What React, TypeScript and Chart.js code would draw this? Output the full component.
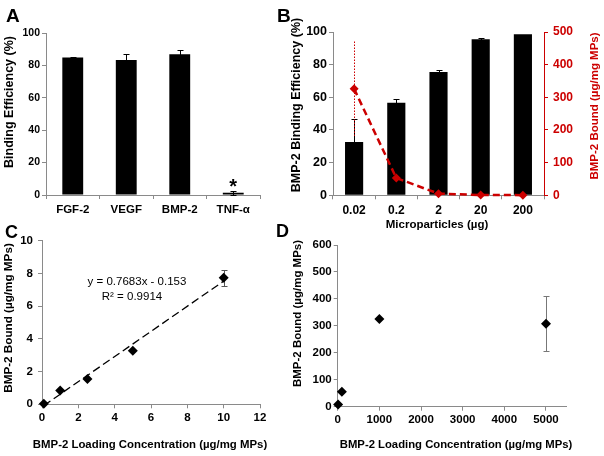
import React, { useEffect, useRef } from "react";
import { Chart, registerables } from "chart.js";

Chart.register(...registerables);

const FAMILY = "'Liberation Sans', Arial, Helvetica, sans-serif";
const AXIS_GRAY = "#8a8a8a";
const RED = "#cc0000";
const BLACK = "#000000";

// ---------- Panel A ----------
const aCategories = ["FGF-2", "VEGF", "BMP-2", "TNF-α"];
const aValues = [84.8, 83.3, 86.9, 1.4];
const aErrors = [0.6, 4.0, 2.6, 1.2];

// ---------- Panel B ----------
const bCategories = ["0.02", "0.2", "2", "20", "200"];
const bEfficiency = [32.7, 56.6, 75.5, 95.5, 98.6];
const bEfficiencyErr = [14.3, 2.2, 1.5, 1.0, 0];
const bBound = [326, 53, 5, 1, 0.5];
const bBoundErr = [145, 0, 0, 0, 0];

// ---------- Panel C ----------
const cLoading = [0.1, 1, 2.5, 5, 10];
const cBound = [0.03, 0.84, 1.54, 3.27, 7.73];
const cBoundErr = [0, 0, 0, 0, 0.47];
const cSlope = 0.7683;
const cIntercept = -0.153;
const cFitRange = [0.1, 10];
const cEquation = "y = 0.7683x - 0.153";
const cR2 = "R² = 0.9914";

// ---------- Panel D ----------
const dLoading = [10, 100, 1000, 5000];
const dBound = [7.7, 55.5, 325, 308];
const dBoundErr = [0, 0, 0, 101];
const dXTicks = [0, 1000, 2000, 3000, 4000, 5000];

type Frame = { left: number; top: number; width: number; height: number };
type Area = { l: number; t: number; r: number; b: number };

type TextItem = {
  text: string;
  x: number;
  y: number;
  size: number;
  weight?: string;
  color?: string;
  align?: CanvasTextAlign;
  baseline?: CanvasTextBaseline;
  rotate?: number;
};

function textPlugin(items: (chart: any) => TextItem[], f: Frame) {
  return {
    id: "texts",
    afterDraw(chart: any) {
      const ctx = chart.ctx;
      for (const t of items(chart)) {
        ctx.save();
        ctx.font = `${t.weight || "bold"} ${t.size}px ${FAMILY}`;
        ctx.fillStyle = t.color || BLACK;
        ctx.textAlign = t.align || "center";
        ctx.textBaseline = t.baseline || "middle";
        ctx.translate(t.x - f.left, t.y - f.top);
        if (t.rotate) ctx.rotate(t.rotate);
        ctx.fillText(t.text, 0, 0);
        ctx.restore();
      }
    },
  };
}

type ErrSpec = {
  datasetIndex: number;
  errors: number[];
  color: string;
  width: number;
  cap: number;
  dash?: number[];
  phase: "before" | "after";
};

function drawErr(chart: any, s: ErrSpec) {
  const meta = chart.getDatasetMeta(s.datasetIndex);
  const ds = chart.data.datasets[s.datasetIndex];
  const yScale = chart.scales[meta.yAxisID];
  const ctx = chart.ctx;
  ctx.save();
  ctx.strokeStyle = s.color;
  ctx.lineWidth = s.width;
  meta.data.forEach((el: any, i: number) => {
    const e = s.errors[i];
    if (!e) return;
    const raw = ds.data[i];
    const v = typeof raw === "number" ? raw : raw.y;
    const yTop = Math.round(yScale.getPixelForValue(v + e)) + 0.5;
    const yBot = Math.round(yScale.getPixelForValue(v - e)) + 0.5;
    const x = Math.round(el.x) + 0.5;
    ctx.setLineDash(s.dash || []);
    ctx.beginPath();
    ctx.moveTo(x, yTop);
    ctx.lineTo(x, yBot);
    ctx.stroke();
    if (s.cap) {
      ctx.setLineDash([]);
      ctx.beginPath();
      ctx.moveTo(x - s.cap, yTop);
      ctx.lineTo(x + s.cap, yTop);
      ctx.moveTo(x - s.cap, yBot);
      ctx.lineTo(x + s.cap, yBot);
      ctx.stroke();
    }
  });
  ctx.restore();
}

function errorPlugin(specs: ErrSpec[]) {
  const run = (chart: any, idx: number, phase: string) =>
    specs.filter((s) => s.datasetIndex === idx && s.phase === phase).forEach((s) => drawErr(chart, s));
  return {
    id: "errbars",
    beforeDatasetDraw(chart: any, args: any) {
      run(chart, args.index, "before");
    },
    afterDatasetDraw(chart: any, args: any) {
      run(chart, args.index, "after");
    },
  };
}

const tickFont = (size: number) => ({ family: FAMILY, size, weight: "bold" as const });

function axis(color: string, tickSize: number, padding: number, tickColor: string, extra: any = {}) {
  return {
    border: { display: true, color, width: 1 },
    grid: {
      display: true,
      drawOnChartArea: false,
      drawTicks: true,
      tickLength: 4,
      color,
      lineWidth: 1,
      ...(extra.grid || {}),
    },
    ticks: { color: tickColor, font: tickFont(tickSize), padding, ...(extra.ticks || {}) },
  };
}

const baseOptions = {
  responsive: false,
  maintainAspectRatio: false,
  animation: false,
  devicePixelRatio: 1,
  plugins: { legend: { display: false }, tooltip: { enabled: false } },
};

// panel frames (canvas boxes) and plot areas, in page coordinates
const PA: Frame = { left: 0, top: 0, width: 270, height: 228 };
const PB: Frame = { left: 270, top: 0, width: 334, height: 234 };
const PC: Frame = { left: 0, top: 212, width: 270, height: 244 };
const PD: Frame = { left: 270, top: 212, width: 334, height: 244 };

const AA: Area = { l: 46, t: 33, r: 260, b: 195 };
const AB: Area = { l: 333, t: 32, r: 544, b: 195.3 };
const AC: Area = { l: 42, t: 240.7, r: 260, b: 404.3 };
const AD: Area = { l: 337.7, t: 245, r: 566.8, b: 406.7 };

const padTop = (f: Frame, a: Area) => a.t - f.top;
const leftW = (f: Frame, a: Area) => a.l - f.left;
const rightW = (f: Frame, a: Area) => f.left + f.width - a.r;
const bottomH = (f: Frame, a: Area) => f.top + f.height - a.b;

function buildA(): any {
  return {
    type: "bar",
    data: {
      labels: aCategories,
      datasets: [
        {
          data: aValues,
          backgroundColor: BLACK,
          borderWidth: 0,
          categoryPercentage: 1,
          barPercentage: 0.39,
        },
      ],
    },
    options: {
      ...baseOptions,
      layout: { padding: { left: 0, top: padTop(PA, AA), right: rightW(PA, AA), bottom: 0 } },
      scales: {
        x: {
          ...axis(AXIS_GRAY, 11.5, 4, BLACK, { grid: { offset: true } }),
          offset: true,
          afterFit: (s: any) => {
            s.height = bottomH(PA, AA);
          },
        },
        y: {
          ...axis(AXIS_GRAY, 10.5, 2, BLACK, { ticks: { stepSize: 20 } }),
          min: 0,
          max: 100,
          afterFit: (s: any) => {
            s.width = leftW(PA, AA);
          },
        },
      },
    },
    plugins: [
      errorPlugin([{ datasetIndex: 0, errors: aErrors, color: BLACK, width: 1, cap: 3, phase: "after" }]),
      textPlugin((chart) => {
        const xs = chart.scales.x;
        const ys = chart.scales.y;
        const i = 3;
        return [
          { text: "A", x: 6, y: 22, size: 19, align: "left", baseline: "alphabetic" },
          { text: "Binding Efficiency (%)", x: 10, y: 102, size: 12.5, rotate: -Math.PI / 2 },
          {
            text: "*",
            x: xs.getPixelForValue(i) + PA.left,
            y: ys.getPixelForValue(aValues[i] + aErrors[i]) + PA.top + 2,
            size: 20,
            baseline: "alphabetic",
          },
        ];
      }, PA),
    ],
  };
}

function buildB(): any {
  return {
    type: "bar",
    data: {
      labels: bCategories,
      datasets: [
        {
          type: "bar",
          data: bEfficiency,
          yAxisID: "y",
          backgroundColor: BLACK,
          borderWidth: 0,
          categoryPercentage: 1,
          barPercentage: 0.43,
          order: 2,
        },
        {
          type: "line",
          data: bBound,
          yAxisID: "y1",
          borderColor: RED,
          borderWidth: 2.5,
          borderDash: [7, 4],
          pointStyle: "rectRot",
          pointRadius: 4.5,
          pointBackgroundColor: RED,
          pointBorderWidth: 0,
          tension: 0,
          clip: false,
          order: 1,
        },
      ],
    },
    options: {
      ...baseOptions,
      layout: { padding: { left: 0, top: padTop(PB, AB), right: 0, bottom: 0 } },
      scales: {
        x: {
          ...axis(AXIS_GRAY, 12, 4, BLACK, { grid: { offset: true } }),
          offset: true,
          afterFit: (s: any) => {
            s.height = bottomH(PB, AB);
          },
        },
        y: {
          ...axis(AXIS_GRAY, 12.5, 2, BLACK, { ticks: { stepSize: 20 } }),
          position: "left",
          min: 0,
          max: 100,
          afterFit: (s: any) => {
            s.width = leftW(PB, AB);
          },
        },
        y1: {
          ...axis(RED, 12, 5, RED, { ticks: { stepSize: 100 } }),
          position: "right",
          min: 0,
          max: 500,
          afterFit: (s: any) => {
            s.width = rightW(PB, AB);
          },
        },
      },
    },
    plugins: [
      errorPlugin([
        { datasetIndex: 0, errors: bEfficiencyErr, color: BLACK, width: 1, cap: 3, phase: "after" },
        { datasetIndex: 1, errors: bBoundErr, color: RED, width: 1, cap: 0, dash: [1.5, 1.5], phase: "before" },
      ]),
      textPlugin(
        () => [
          { text: "B", x: 277, y: 22, size: 19, align: "left", baseline: "alphabetic" },
          { text: "BMP-2 Binding Efficiency (%)", x: 297, y: 105, size: 12.5, rotate: -Math.PI / 2 },
          { text: "BMP-2 Bound (µg/mg MPs)", x: 595, y: 106, size: 11.5, color: RED, rotate: -Math.PI / 2 },
          { text: "Microparticles (µg)", x: 437, y: 225, size: 11.5 },
        ],
        PB
      ),
    ],
  };
}

function buildC(): any {
  return {
    type: "scatter",
    data: {
      datasets: [
        {
          data: cLoading.map((x, i) => ({ x, y: cBound[i] })),
          pointStyle: "rectRot",
          pointRadius: 5,
          pointBackgroundColor: BLACK,
          pointBorderWidth: 0,
          clip: false,
          order: 1,
        },
        {
          data: cFitRange.map((x) => ({ x, y: cSlope * x + cIntercept })),
          showLine: true,
          borderColor: BLACK,
          borderWidth: 1.3,
          borderDash: [8, 4],
          pointRadius: 0,
          order: 2,
        },
      ],
    },
    options: {
      ...baseOptions,
      layout: { padding: { left: 0, top: padTop(PC, AC), right: rightW(PC, AC), bottom: 0 } },
      scales: {
        x: {
          ...axis(AXIS_GRAY, 11.5, 3, BLACK, { ticks: { stepSize: 2 } }),
          type: "linear",
          min: 0,
          max: 12,
          afterFit: (s: any) => {
            s.height = bottomH(PC, AC);
          },
        },
        y: {
          ...axis(AXIS_GRAY, 11.5, 5, BLACK, { ticks: { stepSize: 2 } }),
          min: 0,
          max: 10,
          afterFit: (s: any) => {
            s.width = leftW(PC, AC);
          },
        },
      },
    },
    plugins: [
      errorPlugin([{ datasetIndex: 0, errors: cBoundErr, color: "#555555", width: 1, cap: 3, phase: "before" }]),
      textPlugin(
        () => [
          { text: "C", x: 5, y: 238, size: 18, align: "left", baseline: "alphabetic" },
          { text: "BMP-2 Bound (µg/mg MPs)", x: 9, y: 318, size: 11.7, rotate: -Math.PI / 2 },
          { text: "BMP-2 Loading Concentration (µg/mg MPs)", x: 150, y: 445, size: 11.4 },
          { text: cEquation, x: 137, y: 282, size: 11.5, weight: "normal" },
          { text: cR2, x: 132, y: 297, size: 11.5, weight: "normal" },
        ],
        PC
      ),
    ],
  };
}

function buildD(): any {
  return {
    type: "scatter",
    data: {
      datasets: [
        {
          data: dLoading.map((x, i) => ({ x, y: dBound[i] })),
          pointStyle: "rectRot",
          pointRadius: 5,
          pointBackgroundColor: BLACK,
          pointBorderWidth: 0,
          clip: false,
        },
      ],
    },
    options: {
      ...baseOptions,
      layout: { padding: { left: 0, top: padTop(PD, AD), right: rightW(PD, AD), bottom: 0 } },
      scales: {
        x: {
          ...axis(AXIS_GRAY, 11.5, 2, BLACK, { ticks: { callback: (v: any) => String(v) } }),
          type: "linear",
          min: 0,
          max: 5500,
          afterBuildTicks: (s: any) => {
            s.ticks = dXTicks.map((v) => ({ value: v }));
          },
          afterFit: (s: any) => {
            s.height = bottomH(PD, AD);
          },
        },
        y: {
          ...axis(AXIS_GRAY, 11.5, 2, BLACK, { ticks: { stepSize: 100 } }),
          min: 0,
          max: 600,
          afterFit: (s: any) => {
            s.width = leftW(PD, AD);
          },
        },
      },
    },
    plugins: [
      errorPlugin([{ datasetIndex: 0, errors: dBoundErr, color: "#777777", width: 1, cap: 3, phase: "before" }]),
      textPlugin(
        () => [
          { text: "D", x: 276, y: 237, size: 18, align: "left", baseline: "alphabetic" },
          { text: "BMP-2 Bound (µg/mg MPs)", x: 298, y: 313.5, size: 11.5, rotate: -Math.PI / 2 },
          { text: "BMP-2 Loading Concentration (µg/mg MPs)", x: 456, y: 445, size: 11.3 },
        ],
        PD
      ),
    ],
  };
}

function Panel(props: { frame: Frame; build: () => any }) {
  const ref = useRef<HTMLCanvasElement | null>(null);
  const { frame, build } = props;
  useEffect(() => {
    if (!ref.current) return;
    const chart = new Chart(ref.current, build());
    return () => chart.destroy();
  }, []);
  return (
    <canvas
      ref={ref}
      width={frame.width}
      height={frame.height}
      style={{
        position: "absolute",
        left: frame.left,
        top: frame.top,
        width: frame.width,
        height: frame.height,
      }}
    />
  );
}

export default function App() {
  return (
    <div
      style={{
        position: "absolute",
        left: 0,
        top: 0,
        width: 604,
        height: 456,
        background: "#ffffff",
        overflow: "hidden",
      }}
    >
      <Panel frame={PA} build={buildA} />
      <Panel frame={PB} build={buildB} />
      <Panel frame={PC} build={buildC} />
      <Panel frame={PD} build={buildD} />
    </div>
  );
}
